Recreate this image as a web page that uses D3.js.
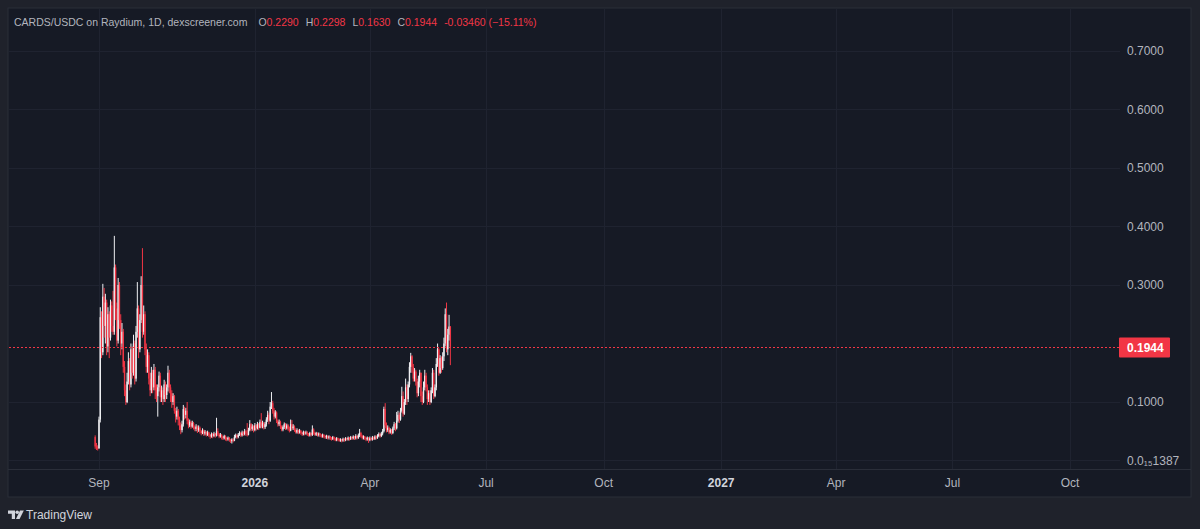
<!DOCTYPE html>
<html><head><meta charset="utf-8">
<script src="https://cdn.jsdelivr.net/npm/d3@7"></script>
<style>
html,body{margin:0;padding:0;background:#1f222b;}
svg{display:block;}
</style></head>
<body>
<svg id="chart" width="1200" height="529"></svg>
<script>
// ---------------- DATA ----------------
const startDate = "2025-08-29";   // first daily candle
const firstOpen = 0.040;
const closes = [
.024,.022,.021,.070,.245,.185,.280,.230,.270,.195,
.250,.210,.265,.230,.220,.330,.260,.205,.300,.240,
.200,.220,.160,.120,.100,.135,.170,.130,.190,.150,
.200,.140,.220,.260,.190,.240,.300,.220,.250,.190,
.160,.180,.140,.120,.150,.125,.155,.120,.110,.125,
.145,.108,.120,.105,.130,.112,.125,.150,.125,.115,
.100,.110,.085,.075,.085,.070,.060,.052,.062,.088,
.078,.085,.068,.060,.066,.058,.064,.057,.054,.058,
.052,.056,.050,.047,.051,.046,.049,.044,.048,.043,
.041,.045,.042,.046,.043,.050,.045,.041,.044,.040,
.038,.042,.038,.036,.039,.035,.033,.036,.034,.040,
.043,.040,.044,.047,.043,.048,.045,.050,.046,.044,
.052,.062,.054,.058,.052,.060,.055,.062,.056,.066,
.058,.064,.057,.062,.070,.078,.068,.092,.098,.085,
.075,.082,.068,.062,.066,.058,.053,.057,.062,.055,
.060,.054,.051,.062,.055,.058,.052,.048,.052,.048,
.051,.047,.045,.049,.046,.048,.045,.043,.047,.044,
.053,.047,.044,.047,.044,.046,.043,.041,.044,.041,
.040,.042,.039,.041,.038,.037,.040,.037,.035,.038,
.036,.034,.036,.034,.037,.035,.038,.036,.039,.037,
.040,.038,.041,.038,.042,.039,.043,.047,.042,.039,
.041,.038,.036,.039,.035,.038,.036,.039,.037,.041,
.039,.042,.045,.042,.046,.050,.088,.060,.052,.056,
.048,.052,.047,.055,.062,.055,.068,.078,.070,.085,
.110,.080,.100,.125,.105,.130,.160,.178,.160,.140,
.152,.135,.115,.135,.150,.110,.100,.125,.145,.125,
.105,.115,.100,.120,.150,.110,.125,.165,.190,.150,
.175,.158,.178,.200,.250,.190,.215,.229,.1944];
const highs = [
.043,.030,.026,.075,.262,.255,.302,.295,.285,.275,
.262,.255,.275,.272,.290,.384,.335,.270,.312,.305,
.250,.235,.225,.170,.130,.150,.185,.175,.200,.195,
.215,.205,.230,.305,.265,.250,.315,.363,.265,.255,
.200,.190,.185,.150,.160,.155,.165,.160,.130,.130,
.152,.150,.128,.125,.138,.135,.130,.162,.155,.130,
.120,.115,.112,.090,.092,.088,.075,.065,.068,.095,
.092,.090,.100,.072,.070,.068,.068,.066,.060,.062,
.060,.060,.058,.052,.055,.053,.052,.050,.051,.049,
.045,.048,.047,.049,.047,.073,.055,.047,.047,.045,
.042,.044,.043,.040,.041,.040,.037,.038,.038,.044,
.046,.045,.047,.050,.049,.051,.050,.054,.052,.064,
.056,.069,.064,.062,.060,.064,.062,.066,.064,.070,
.081,.068,.066,.066,.074,.085,.082,.100,.117,.102,
.090,.086,.084,.070,.070,.068,.060,.060,.065,.064,
.063,.062,.058,.070,.069,.062,.060,.055,.055,.053,
.054,.052,.049,.051,.050,.051,.050,.047,.049,.048,
.060,.055,.049,.049,.048,.048,.047,.045,.046,.045,
.043,.044,.043,.043,.042,.040,.042,.041,.039,.040,
.039,.038,.038,.037,.039,.038,.040,.039,.041,.040,
.042,.041,.043,.042,.045,.043,.046,.054,.049,.044,
.043,.042,.040,.041,.040,.041,.040,.042,.041,.043,
.043,.045,.048,.047,.049,.054,.092,.098,.065,.060,
.058,.055,.054,.058,.066,.064,.083,.085,.082,.090,
.126,.118,.105,.140,.130,.135,.168,.184,.180,.165,
.158,.155,.140,.145,.155,.150,.118,.135,.155,.150,
.130,.120,.120,.125,.158,.155,.130,.175,.200,.192,
.180,.178,.185,.210,.260,.270,.225,.249,.2298];
const lows = [
.020,.018,.017,.020,.065,.175,.180,.210,.200,.180,
.185,.175,.205,.220,.215,.215,.240,.195,.200,.225,
.180,.190,.150,.110,.095,.098,.130,.120,.125,.140,
.145,.130,.135,.210,.175,.185,.235,.210,.215,.180,
.150,.150,.130,.110,.115,.115,.120,.105,.100,.075,
.118,.100,.100,.095,.100,.100,.105,.118,.115,.100,
.090,.095,.080,.065,.070,.060,.052,.045,.048,.058,
.070,.072,.062,.055,.057,.054,.056,.053,.050,.050,
.047,.049,.046,.043,.045,.042,.043,.041,.042,.040,
.037,.039,.038,.040,.039,.041,.042,.038,.039,.036,
.035,.036,.034,.033,.034,.032,.030,.029,.031,.033,
.038,.037,.038,.042,.040,.041,.042,.043,.042,.041,
.043,.050,.050,.051,.048,.050,.051,.053,.052,.055,
.055,.055,.053,.054,.058,.066,.062,.066,.088,.080,
.070,.072,.064,.058,.059,.054,.050,.050,.054,.052,
.053,.051,.048,.050,.052,.052,.049,.046,.046,.045,
.046,.044,.042,.043,.043,.044,.042,.041,.041,.041,
.042,.044,.042,.042,.041,.041,.040,.039,.039,.038,
.037,.037,.036,.036,.035,.034,.035,.034,.033,.033,
.033,.032,.032,.031,.032,.032,.033,.034,.034,.034,
.035,.035,.036,.035,.036,.036,.037,.040,.039,.036,
.036,.035,.033,.034,.030,.033,.034,.034,.035,.035,
.036,.037,.040,.039,.040,.043,.048,.055,.048,.049,
.045,.046,.044,.045,.052,.050,.053,.065,.064,.068,
.082,.075,.078,.095,.095,.100,.125,.150,.150,.135,
.135,.128,.108,.110,.125,.100,.095,.098,.120,.118,
.095,.100,.095,.098,.115,.105,.108,.120,.160,.145,
.148,.150,.155,.170,.195,.185,.180,.205,.163];

const xTickDates  = ["2025-09-01","2026-01-01","2026-04-01","2026-07-01","2026-10-01","2027-01-01","2027-04-01","2027-07-01","2027-10-01"];
const xTickLabels = ["Sep","2026","Apr","Jul","Oct","2027","Apr","Jul","Oct"];
const xTickBold   = [false,true,false,false,false,true,false,false,false];
const yTickValues = [1.387e-16,0.1,0.3,0.4,0.5,0.6,0.7];
const yTickLabels = ["0.0\u2081\u20851387","0.1000","0.3000","0.4000","0.5000","0.6000","0.7000"];
const titleText = "CARDS/USDC on Raydium, 1D, dexscreener.com";
const ohlcKeys = ["O","H","L","C"];
const ohlcVals = ["0.2290","0.2298","0.1630","0.1944"];
const changeText = "-0.03460 (\u221215.11%)";
const lastPrice = 0.1944;

// ---------------- BUILD ----------------
const parse = d3.utcParse("%Y-%m-%d");
const t0 = parse(startDate);
const candles = closes.map((c,i)=>({
  date: d3.utcDay.offset(t0,i),
  open: i===0 ? firstOpen : closes[i-1],
  high: highs[i], low: lows[i], close: c
}));

const svg = d3.select("#chart");
const panel={x0:8,y0:8,x1:1191,y1:497};
const plot={x0:8,x1:1120,y0:8,y1:469};

const x = d3.scaleUtc().domain([parse("2025-09-01"),parse("2027-10-01")]).range([99,1070]);
const y = d3.scaleLinear().domain([0,0.7]).range([460.5,51]);

// panel bg
svg.append("rect").attr("x",panel.x0).attr("y",panel.y0)
  .attr("width",panel.x1-panel.x0).attr("height",panel.y1-panel.y0)
  .attr("fill","#161a25").attr("stroke","#2a2e39").attr("stroke-width",1);

// grid
const grid = svg.append("g").attr("stroke","#1f2330").attr("stroke-width",1);
yTickValues.forEach(v=>{
  const yy=Math.round(y(v))+0.5;
  grid.append("line").attr("x1",plot.x0+1).attr("x2",plot.x1).attr("y1",yy).attr("y2",yy);
});
xTickDates.forEach(d=>{
  const xx=Math.round(x(parse(d)))+0.5;
  grid.append("line").attr("x1",xx).attr("x2",xx).attr("y1",plot.y0+1).attr("y2",plot.y1);
});

// time axis separator
svg.append("line").attr("x1",panel.x0).attr("x2",panel.x1).attr("y1",plot.y1+0.5).attr("y2",plot.y1+0.5)
  .attr("stroke","#2a2e39");

// candles
const UP="#eeeff2", DOWN="#f23645";
const cg = svg.append("g");
candles.forEach(c=>{
  const cx = x(c.date);
  const col = c.close>=c.open?UP:DOWN;
  cg.append("line").attr("x1",cx).attr("x2",cx).attr("y1",y(c.high)).attr("y2",y(c.low))
    .attr("stroke",col).attr("stroke-width",1);
  const top=y(Math.max(c.open,c.close)), bot=y(Math.min(c.open,c.close));
  cg.append("rect").attr("x",cx-0.7).attr("width",1.4).attr("y",top).attr("height",Math.max(1,bot-top))
    .attr("fill",col);
});

// last price dotted line
const py = Math.round(y(lastPrice))+0.5;
svg.append("line").attr("x1",plot.x0+1).attr("x2",1119).attr("y1",py).attr("y2",py)
  .attr("stroke","#f23645").attr("stroke-width",1).attr("stroke-dasharray","2,2")
  .attr("shape-rendering","crispEdges");

// y labels
const font="'Liberation Sans', Arial, sans-serif";
const yl = svg.append("g").attr("font-family",font).attr("font-size",12).attr("fill","#b2b5be");
yTickValues.forEach((v,i)=>{
  yl.append("text").attr("x",1127).attr("y",y(v)).attr("dy","0.35em").text(yTickLabels[i]);
});
// last price tag
svg.append("rect").attr("x",1119).attr("y",py-10).attr("width",51).attr("height",20).attr("rx",1).attr("fill","#f23645");
svg.append("text").attr("x",1127).attr("y",py).attr("dy","0.35em").attr("font-family",font)
  .attr("font-size",12).attr("font-weight","bold").attr("fill","#ffffff").text(lastPrice.toFixed(4));

// x labels
const xl = svg.append("g").attr("font-family",font).attr("font-size",12).attr("text-anchor","middle");
xTickDates.forEach((d,i)=>{
  xl.append("text").attr("x",x(parse(d))).attr("y",483).attr("dy","0.35em")
    .attr("fill",xTickBold[i]?"#d1d4dc":"#b2b5be").attr("font-weight",xTickBold[i]?"bold":"normal")
    .text(xTickLabels[i]);
});

// header
const hdr = svg.append("text").attr("x",14).attr("y",22).attr("dy","0.35em")
  .attr("font-family",font).attr("font-size",10.5).attr("fill","#b2b5be");
hdr.append("tspan").text(titleText);
ohlcKeys.forEach((k,i)=>{
  hdr.append("tspan").attr("dx",i===0?11:7).attr("fill","#b2b5be").text(k);
  hdr.append("tspan").attr("fill","#f23645").text(ohlcVals[i]);
});
hdr.append("tspan").attr("dx",7).attr("fill","#f23645").text(changeText);

// TradingView logo
const lg = svg.append("g").attr("fill","#d1d4dc");
lg.append("path").attr("d","M8 510.5h7v8.5h-3.2v-5.2H8z");
lg.append("circle").attr("cx",17.2).attr("cy",512.3).attr("r",1.8);
lg.append("path").attr("d","M20 510.5h3.8l-4.2 8.5h-3.6z");
svg.append("text").attr("x",26).attr("y",515).attr("dy","0.35em").attr("font-family",font)
  .attr("font-size",12).attr("fill","#d1d4dc").text("TradingView");
</script>
</body></html>
